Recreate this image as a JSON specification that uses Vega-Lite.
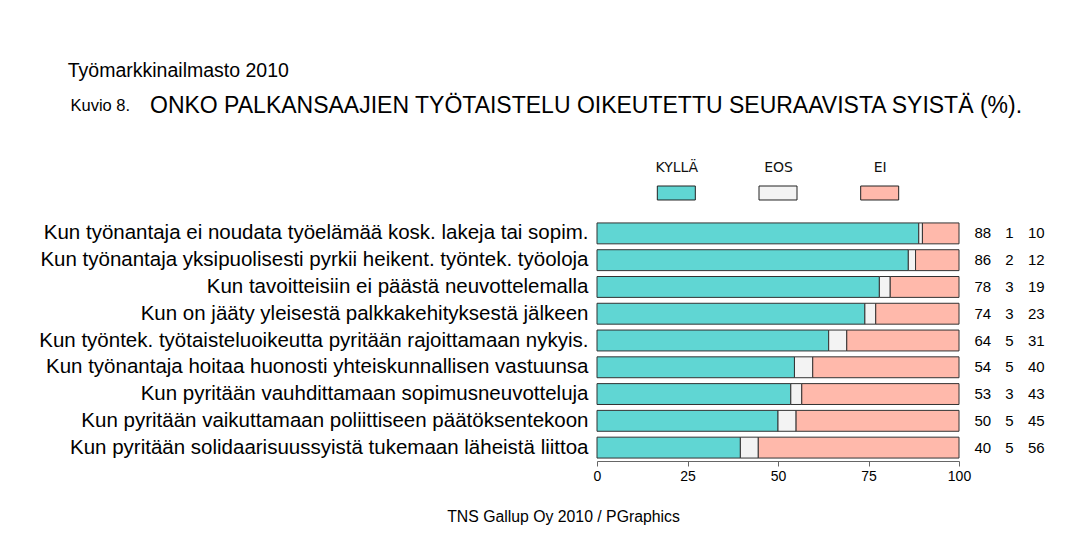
{
  "$schema": "https://vega.github.io/schema/vega-lite/v6.json",
  "background": "white",
  "padding": {"left": 38, "top": 60, "right": 5, "bottom": 5},
  "config": {
    "font": "Liberation Sans",
    "view": {"stroke": null},
    "title": {"fontWeight": "normal", "color": "black", "font": "Liberation Sans"}
  },
  "title": {"text": "Työmarkkinailmasto 2010", "anchor": "start", "fontSize": 19.5, "dx": 29, "offset": 14},
  "datasets": {
    "rows": [
      {"label": "Kun työnantaja ei noudata työelämää kosk. lakeja tai sopim.", "answer": "KYLLÄ", "value": 88},
      {"label": "Kun työnantaja ei noudata työelämää kosk. lakeja tai sopim.", "answer": "EOS", "value": 1},
      {"label": "Kun työnantaja ei noudata työelämää kosk. lakeja tai sopim.", "answer": "EI", "value": 10},
      {"label": "Kun työnantaja yksipuolisesti pyrkii heikent. työntek. työoloja", "answer": "KYLLÄ", "value": 86},
      {"label": "Kun työnantaja yksipuolisesti pyrkii heikent. työntek. työoloja", "answer": "EOS", "value": 2},
      {"label": "Kun työnantaja yksipuolisesti pyrkii heikent. työntek. työoloja", "answer": "EI", "value": 12},
      {"label": "Kun tavoitteisiin ei päästä neuvottelemalla", "answer": "KYLLÄ", "value": 78},
      {"label": "Kun tavoitteisiin ei päästä neuvottelemalla", "answer": "EOS", "value": 3},
      {"label": "Kun tavoitteisiin ei päästä neuvottelemalla", "answer": "EI", "value": 19},
      {"label": "Kun on jääty yleisestä palkkakehityksestä jälkeen", "answer": "KYLLÄ", "value": 74},
      {"label": "Kun on jääty yleisestä palkkakehityksestä jälkeen", "answer": "EOS", "value": 3},
      {"label": "Kun on jääty yleisestä palkkakehityksestä jälkeen", "answer": "EI", "value": 23},
      {"label": "Kun työntek. työtaisteluoikeutta pyritään rajoittamaan nykyis.", "answer": "KYLLÄ", "value": 64},
      {"label": "Kun työntek. työtaisteluoikeutta pyritään rajoittamaan nykyis.", "answer": "EOS", "value": 5},
      {"label": "Kun työntek. työtaisteluoikeutta pyritään rajoittamaan nykyis.", "answer": "EI", "value": 31},
      {"label": "Kun työnantaja hoitaa huonosti yhteiskunnallisen vastuunsa", "answer": "KYLLÄ", "value": 54},
      {"label": "Kun työnantaja hoitaa huonosti yhteiskunnallisen vastuunsa", "answer": "EOS", "value": 5},
      {"label": "Kun työnantaja hoitaa huonosti yhteiskunnallisen vastuunsa", "answer": "EI", "value": 40},
      {"label": "Kun pyritään vauhdittamaan sopimusneuvotteluja", "answer": "KYLLÄ", "value": 53},
      {"label": "Kun pyritään vauhdittamaan sopimusneuvotteluja", "answer": "EOS", "value": 3},
      {"label": "Kun pyritään vauhdittamaan sopimusneuvotteluja", "answer": "EI", "value": 43},
      {"label": "Kun pyritään vaikuttamaan poliittiseen päätöksentekoon", "answer": "KYLLÄ", "value": 50},
      {"label": "Kun pyritään vaikuttamaan poliittiseen päätöksentekoon", "answer": "EOS", "value": 5},
      {"label": "Kun pyritään vaikuttamaan poliittiseen päätöksentekoon", "answer": "EI", "value": 45},
      {"label": "Kun pyritään solidaarisuussyistä tukemaan läheistä liittoa", "answer": "KYLLÄ", "value": 40},
      {"label": "Kun pyritään solidaarisuussyistä tukemaan läheistä liittoa", "answer": "EOS", "value": 5},
      {"label": "Kun pyritään solidaarisuussyistä tukemaan läheistä liittoa", "answer": "EI", "value": 56}
    ],
    "legend": [
      {"answer": "KYLLÄ"},
      {"answer": "EOS"},
      {"answer": "EI"}
    ]
  },
  "spacing": 18,
  "vconcat": [
    {
      "data": {"name": "legend"},
      "width": 362,
      "height": 14,
      "title": {"text": "ONKO PALKANSAAJIEN TYÖTAISTELU OIKEUTETTU SEURAAVISTA SYISTÄ (%).", "anchor": "start", "frame": "group", "fontSize": 23, "dx": -447, "offset": -39, "baseline": "alphabetic"},
      "mark": {"type": "point", "shape": "M-1,-0.368H1V0.368H-1Z", "size": 1444, "filled": true, "stroke": "#222", "strokeWidth": 1, "opacity": 1},
      "encoding": {
        "x": {"field": "answer", "type": "nominal", "sort": ["KYLLÄ", "EOS", "EI"], "scale": {"type": "point", "padding": 0.78},
              "axis": {"orient": "top", "domain": false, "ticks": false, "tickSize": 0, "labelPadding": 12, "labelFont": "DejaVu Sans", "labelFontSize": 14, "labelColor": "#111", "labelAngle": 0,
                       "title": "Kuvio 8.", "titleFont": "Liberation Sans", "titleFontSize": 16.5, "titleFontWeight": "normal", "titleColor": "black",
                       "titleX": -527, "titleY": -76, "titleAlign": "left", "titleBaseline": "alphabetic"}},
        "color": {"field": "answer", "type": "nominal", "scale": {"domain": ["KYLLÄ", "EOS", "EI"], "range": ["#60d6d3", "#f3f3f3", "#ffb9ab"]}, "legend": null}
      }
    },
    {
      "spacing": 0,
      "hconcat": [
        {
          "data": {"name": "rows"},
          "width": 362,
          "height": 241,
          "mark": {"type": "bar", "stroke": "#333", "strokeWidth": 1},
          "encoding": {
            "y": {"field": "label", "type": "nominal", "sort": null, "scale": {"paddingInner": 0.22, "paddingOuter": 0.11},
                  "axis": {"title": null, "domain": false, "ticks": false, "labelFontSize": 20.5, "labelLimit": 700, "labelPadding": 9, "labelColor": "black"}},
            "x": {"field": "value", "type": "quantitative", "stack": "normalize", "scale": {"domain": [0, 1]},
                  "axis": {"values": [0, 0.25, 0.5, 0.75, 1], "labelExpr": "format(datum.value*100, 'd')", "grid": false, "labelFlush": false,
                           "domainColor": "#666", "tickColor": "#666", "tickSize": 5, "labelFontSize": 14, "labelColor": "black", "labelPadding": 3,
                           "title": "TNS Gallup Oy 2010 / PGraphics", "titleFontSize": 15.8, "titleFontWeight": "normal", "titleColor": "black",
                           "titleX": -34, "titleY": 60, "titleAlign": "center", "titleBaseline": "alphabetic"}},
            "color": {"field": "answer", "type": "nominal", "scale": {"domain": ["KYLLÄ", "EOS", "EI"], "range": ["#60d6d3", "#f3f3f3", "#ffb9ab"]}, "legend": null},
            "order": {"field": "answer", "sort": "descending"}
          }
        },
        {
          "data": {"name": "rows"},
          "width": 77,
          "height": 241,
          "mark": {"type": "text", "fontSize": 15, "color": "black"},
          "encoding": {
            "y": {"field": "label", "type": "nominal", "sort": null, "scale": {"paddingInner": 0.22, "paddingOuter": 0.11}, "axis": null},
            "x": {"field": "answer", "type": "nominal", "sort": ["KYLLÄ", "EOS", "EI"], "scale": {"type": "point", "padding": 0.44}, "axis": null},
            "text": {"field": "value", "type": "quantitative"}
          }
        }
      ]
    }
  ]
}
